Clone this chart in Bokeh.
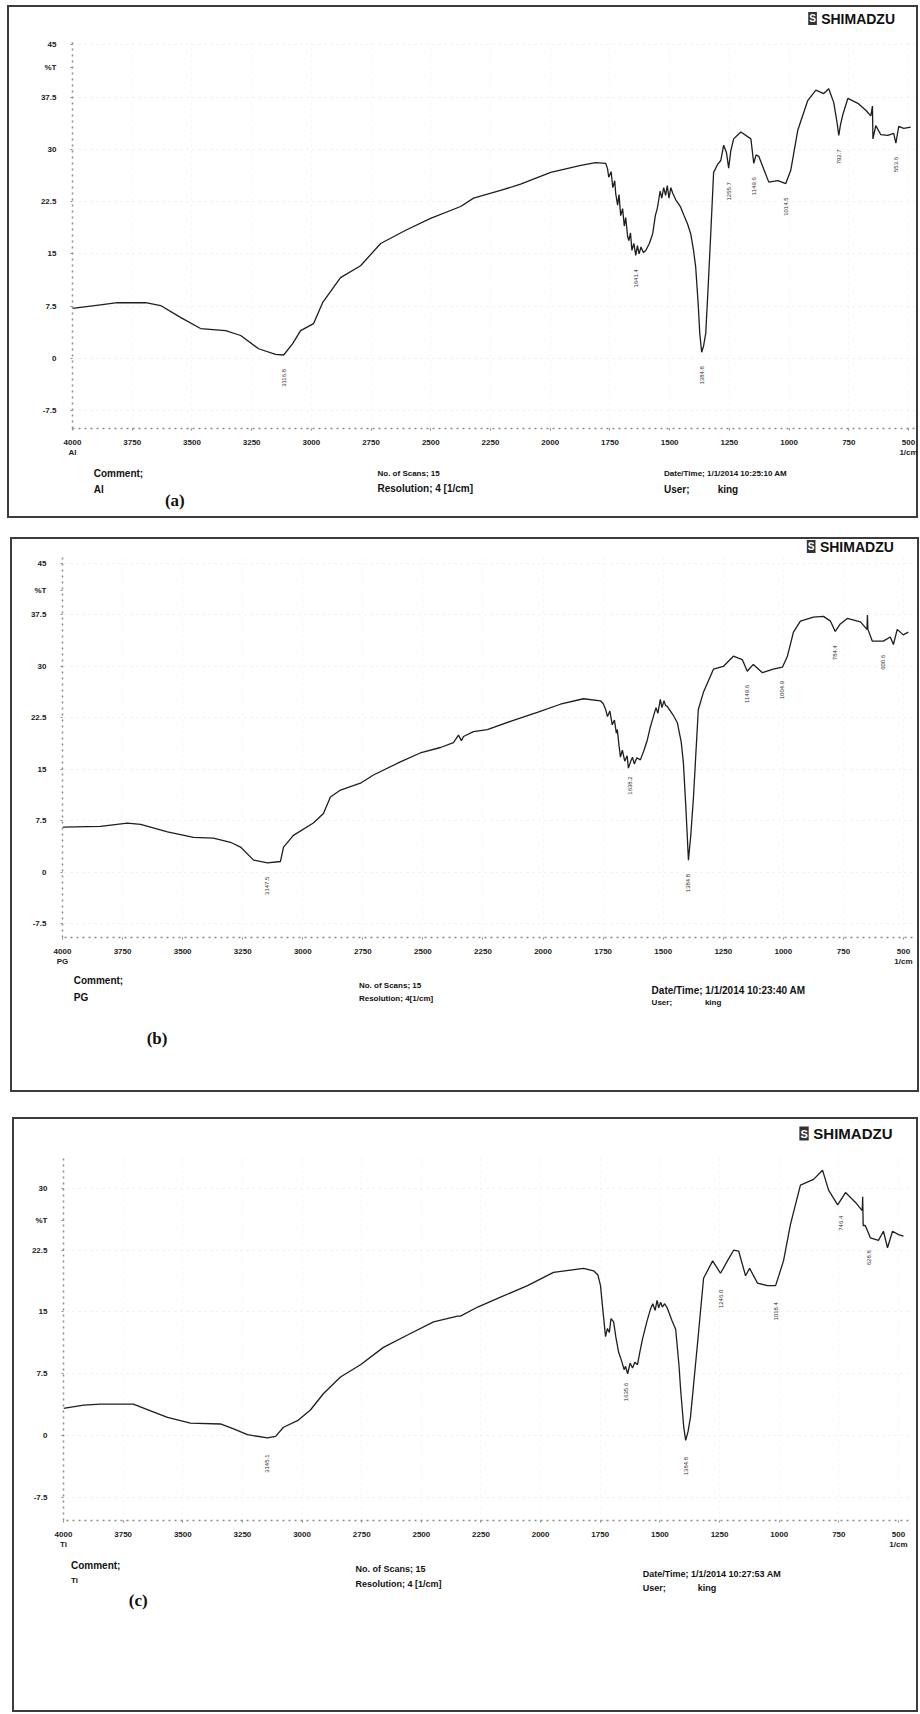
import numpy as np
from bokeh.plotting import figure
from bokeh.layouts import column
from bokeh.models import Range1d, FixedTicker, Label
from bokeh.core.properties import value
from bokeh.embed import file_html
from bokeh.resources import INLINE

# ---------------- data ----------------
x_ticks = [4000, 3750, 3500, 3250, 3000, 2750, 2500, 2250, 2000, 1750, 1500, 1250, 1000, 750, 500]
y_ticks_ab = [45, 37.5, 30, 22.5, 15, 7.5, 0, -7.5]
y_ticks_c = [30, 22.5, 15, 7.5, 0, -7.5]
y_unit_label = "%T"
x_unit_label = "1/cm"

# (a) Al
wn_a = [4000, 3883, 3812, 3694, 3631, 3548, 3464, 3359, 3296, 3221, 3150, 3116, 3079, 3045, 2991,
        2953, 2878, 2794, 2710, 2605, 2501, 2375, 2321, 2208, 2124, 1998, 1872, 1810, 1768, 1760,
        1755, 1745, 1738, 1730, 1726, 1718, 1712, 1705, 1697, 1690, 1684, 1676, 1671, 1664, 1658,
        1650, 1642, 1635, 1628, 1620, 1610, 1600, 1585, 1571, 1560, 1552, 1546, 1540, 1533, 1525,
        1517, 1510, 1503, 1495, 1487, 1475, 1465, 1454, 1440, 1425, 1412, 1400, 1391, 1380, 1374,
        1366, 1358, 1349, 1340, 1328, 1316, 1300, 1286, 1274, 1262, 1253, 1244, 1232, 1202, 1160,
        1148, 1138, 1127, 1110, 1085, 1047, 1014, 993, 964, 922, 888, 855, 834, 813, 800,
        792, 785, 775, 754, 712, 679, 658, 651, 649, 637, 616, 587, 562, 553, 541,
        520, 491]
t_a = [7.2, 7.7, 8.0, 8.0, 7.6, 5.9, 4.3, 4.0, 3.3, 1.4, 0.6, 0.5, 2.1, 4.0, 5.0,
       8.0, 11.6, 13.3, 16.5, 18.4, 20.1, 21.8, 23.0, 24.1, 25.0, 26.7, 27.7, 28.1, 28.0, 27.2,
       26.0, 26.8, 24.5, 25.5, 23.7, 22.0, 23.5, 20.5, 21.5, 19.0, 20.2, 17.5, 16.9, 18.0, 15.5,
       16.5, 14.8, 16.2, 15.0, 16.0, 15.2, 15.5, 16.5, 17.9, 20.5, 21.5, 22.7, 24.0, 23.0, 24.5,
       23.4, 24.8, 23.0, 24.5, 23.7, 22.8, 22.3, 21.7, 20.5, 19.3, 17.9, 15.5, 13.1, 7.5, 3.6,
       0.9, 1.8, 3.6, 9.5, 17.9, 26.7, 27.8, 28.4, 30.6, 29.5, 27.3, 29.8, 31.5, 32.5, 31.5,
       28.0, 29.2, 29.0, 27.5, 25.3, 25.5, 25.1, 27.0, 32.7, 37.0, 38.5, 38.0, 38.7, 36.7, 34.0,
       32.0, 33.5, 35.0, 37.3, 36.6, 35.6, 34.8, 36.2, 31.5, 33.4, 32.1, 32.0, 32.3, 30.9, 33.3,
       33.0, 33.2]
peak_wn_a = [3116, 1642, 1366, 1253, 1148, 1014, 792, 553]
peak_lbl_a = ["3116.8", "1641.4", "1384.8", "1255.7", "1149.6", "1014.5", "792.7", "553.6"]

# (b) PG
wn_b = [4000, 3842, 3730, 3675, 3563, 3455, 3372, 3301, 3259, 3205, 3147, 3093, 3080, 3039, 2956,
        2914, 2885, 2843, 2760, 2706, 2594, 2511, 2427, 2373, 2352, 2340, 2331, 2290, 2232, 2136,
        2024, 1928, 1832, 1761, 1750, 1740, 1732, 1722, 1712, 1703, 1695, 1691, 1684, 1678, 1670,
        1660, 1650, 1645, 1637, 1628, 1620, 1610, 1595, 1580, 1566, 1555, 1541, 1530, 1522, 1512,
        1505, 1497, 1490, 1483, 1460, 1441, 1425, 1416, 1405, 1395, 1385, 1374, 1354, 1333, 1291,
        1250, 1208, 1171, 1150, 1125, 1087, 1042, 1004, 983, 958, 929, 875, 833, 804, 784,
        763, 734, 679, 652, 650, 648, 630, 584, 555, 542, 526, 501, 480]
t_b = [6.6, 6.7, 7.2, 7.0, 5.9, 5.1, 5.0, 4.4, 3.7, 1.8, 1.4, 1.6, 3.7, 5.4, 7.2,
       8.6, 11.0, 12.0, 13.0, 14.2, 16.1, 17.4, 18.2, 18.9, 20.0, 19.2, 19.8, 20.5, 20.8, 22.0,
       23.3, 24.5, 25.3, 25.0, 24.6, 23.8, 22.7, 23.5, 21.5, 22.2, 20.3, 20.8, 18.5, 16.8, 17.8,
       16.2, 17.0, 15.2, 16.0, 16.8, 15.8, 16.7, 16.4, 17.8, 19.3, 21.0, 22.7, 24.0, 23.2, 25.2,
       24.0, 25.0, 24.3, 24.2, 23.0, 21.8, 19.0, 16.0, 9.0, 1.8, 5.5, 11.0, 23.7, 26.2, 29.6,
       30.0, 31.5, 31.0, 29.3, 30.3, 29.1, 29.6, 29.9, 31.5, 35.0, 36.6, 37.2, 37.3, 36.6, 35.1,
       36.2, 37.0, 36.5, 35.4, 37.5, 35.4, 33.7, 33.7, 34.3, 33.2, 35.4, 34.6, 35.0]
peak_wn_b = [3147, 1637, 1395, 1150, 1004, 784, 584]
peak_lbl_b = ["3147.5", "1638.2", "1384.8", "1149.6", "1004.9", "784.4", "600.6"]

# (c) Ti
wn_c = [4000, 3916, 3845, 3707, 3635, 3564, 3468, 3342, 3287, 3229, 3145, 3111, 3078, 3019, 2965,
        2910, 2839, 2755, 2659, 2558, 2449, 2348, 2336, 2264, 2168, 2055, 1946, 1820, 1778, 1760,
        1749, 1740, 1728, 1720, 1712, 1705, 1694, 1685, 1673, 1660, 1650, 1644, 1635, 1625, 1615,
        1605, 1594, 1585, 1573, 1555, 1539, 1530, 1520, 1512, 1505, 1497, 1490, 1480, 1468, 1450,
        1434, 1420, 1413, 1400, 1392, 1382, 1372, 1342, 1317, 1279, 1246, 1217, 1191, 1170, 1141,
        1124, 1091, 1049, 1015, 982, 953, 911, 856, 818, 793, 755, 722, 680, 652, 650,
        648, 639, 618, 584, 563, 546, 525, 500, 479]
t_c = [3.3, 3.7, 3.8, 3.8, 3.0, 2.2, 1.5, 1.4, 0.8, 0.1, -0.3, -0.1, 1.0, 1.8, 3.1,
       5.1, 7.1, 8.6, 10.7, 12.2, 13.8, 14.5, 14.5, 15.6, 16.8, 18.2, 19.8, 20.3, 20.0, 19.5,
       18.2, 15.5, 12.0, 13.0, 12.5, 14.2, 13.8, 12.0, 10.1, 9.0, 8.0, 8.4, 7.5, 8.8, 8.2,
       8.9, 8.6, 10.0, 11.7, 13.8, 15.4, 16.0, 15.2, 16.4, 15.5, 16.2, 15.6, 16.0, 15.4, 14.0,
       12.9, 8.5, 5.5, 1.0, -0.6, 0.5, 2.2, 11.3, 19.1, 21.2, 19.7, 21.2, 22.5, 22.4, 19.4,
       20.3, 18.5, 18.2, 18.2, 21.2, 25.6, 30.4, 31.1, 32.2, 29.8, 28.0, 29.5, 28.3, 27.3, 29.0,
       25.5, 25.5, 24.0, 23.7, 24.8, 22.8, 24.8, 24.4, 24.2]
peak_wn_c = [3145, 1644, 1392, 1246, 1015, 740, 625]
peak_lbl_c = ["3145.1", "1635.6", "1384.8", "1246.0", "1018.4", "746.4", "628.8"]

samples = ["Al", "PG", "Ti"]
panel_tags = ["(a)", "(b)", "(c)"]
scans = ["15", "15", "15"]
dates = ["1/1/2014 10:25:10 AM", "1/1/2014 10:23:40 AM", "1/1/2014 10:27:53 AM"]
user = "king"
brand = "SHIMADZU"

FONT = "Liberation Sans"


def strip(W, H):
    """A blank figure whose frame fills its canvas; texts are placed in pixels
    measured from its top-left corner (y range runs downwards)."""
    p = figure(width=W, height=H, output_backend="svg", toolbar_location=None,
               x_range=Range1d(0, W), y_range=Range1d(H, 0), title=None,
               x_axis_type=None, y_axis_type=None,
               min_border_left=0, min_border_right=0, min_border_top=0, min_border_bottom=0)
    p.outline_line_color = None
    p.border_fill_color = None
    p.background_fill_color = None
    return p


def txt(p, x, y, text, size="8px", bold=True, font=FONT, color="#111111",
        align="left", bg=None):
    lb = Label(x=x, y=y, text=text, text_font=font, text_font_size=size,
               text_font_style="bold" if bold else "normal",
               text_color=color, text_align=align, text_baseline="middle")
    if bg is not None:
        lb.background_fill_color = bg
        lb.padding = 1
    p.add_layout(lb)


def main_plot(W, H, left, right, top, bottom, xr, yr, yticks, pct_at,
              wn, t, pk_wn, pk_lbl, pk_off, sample):
    p = figure(width=W, height=H, output_backend="svg", toolbar_location=None,
               x_range=Range1d(*xr), y_range=Range1d(*yr), title=None,
               min_border_left=left, min_border_right=right,
               min_border_top=top, min_border_bottom=bottom)
    p.outline_line_color = None
    p.border_fill_color = None
    p.background_fill_color = None

    for ax in (p.xaxis[0], p.yaxis[0]):
        ax.axis_line_color = "#8a8a8a"
        ax.axis_line_dash = "dotted"
        ax.axis_line_width = 1.5
        ax.major_tick_line_color = "#8a8a8a"
        ax.major_tick_in = 0
        ax.major_tick_out = 2
        ax.minor_tick_line_color = None
        ax.major_label_text_font = FONT
        ax.major_label_text_font_size = "8px"
        ax.major_label_text_font_style = "bold"
        ax.major_label_text_color = "#222222"
    p.xaxis.ticker = FixedTicker(ticks=x_ticks)
    xo = {v: str(v) for v in x_ticks}
    xo[x_ticks[0]] = str(x_ticks[0]) + "\n" + sample
    xo[x_ticks[-1]] = str(x_ticks[-1]) + "\n" + x_unit_label
    p.xaxis.major_label_overrides = xo
    p.xaxis.major_label_standoff = 7
    p.yaxis.ticker = FixedTicker(ticks=list(yticks) + [pct_at])
    yo = {v: ("%g" % v) for v in yticks}
    yo[pct_at] = y_unit_label
    p.yaxis.major_label_overrides = yo
    p.yaxis.major_label_standoff = 14

    p.xgrid.ticker = FixedTicker(ticks=x_ticks)
    p.ygrid.ticker = FixedTicker(ticks=list(yticks))
    p.xgrid.grid_line_color = "#c8c8c8"
    p.xgrid.grid_line_dash = "dotted"
    p.xgrid.grid_line_alpha = 0.22
    p.ygrid.grid_line_color = "#c8c8c8"
    p.ygrid.grid_line_dash = "dotted"
    p.ygrid.grid_line_alpha = 0.3

    p.line(wn, t, line_color="#1e1e1e", line_width=1.3)

    wn_arr = np.array(wn, dtype=float)
    t_arr = np.array(t, dtype=float)
    ly = np.interp(pk_wn, wn_arr[::-1], t_arr[::-1]) - pk_off
    p.text(x=pk_wn, y=list(ly), text=pk_lbl, angle=np.pi / 2,
           text_align="right", text_baseline="middle",
           text_font=value(FONT), text_font_size="6px", text_color="#333333")
    return p


def block(children, margin):
    return column(*children, spacing=0, margin=margin,
                  styles={"box-shadow": "inset 0 0 0 2px #3c3c3c"})


BOTTOM = 32

# ---------------- panel (a) ----------------
Wa = 911
ha = strip(Wa, 25)
txt(ha, 796, 13, "S", "10px", color="white", bg="#333333")
txt(ha, 810, 13, brand, "14px")
ma = main_plot(Wa, 8 + 390 + BOTTOM, 65, 4, 8, BOTTOM, (4000, 475), (-10.04, 45.9),
               y_ticks_ab, 41.7, wn_a, t_a, peak_wn_a, peak_lbl_a, 2.0, samples[0])
fa = strip(Wa, 513 - 25 - (8 + 390 + BOTTOM))
txt(fa, 23, 13, "Comment;", "10px")
txt(fa, 23, 29, samples[0], "10px")
txt(fa, 100, 40, panel_tags[0], "17px", font="Liberation Serif")
txt(fa, 330, 13, "No. of Scans; " + scans[0], "8px")
txt(fa, 330, 28, "Resolution;    4 [1/cm]", "10px")
txt(fa, 640, 13, "Date/Time; " + dates[0], "8px")
txt(fa, 640, 29, "User;", "10px")
txt(fa, 698, 29, user, "10px")
panel_a = block([ha, ma, fa], (5, 0, 0, 7))

# ---------------- panel (b) ----------------
Wb = 909
hb = strip(Wb, 16)
txt(hb, 796, 9, "S", "10px", color="white", bg="#333333")
txt(hb, 810, 9, brand, "14px")
mb = main_plot(Wb, 4 + 380 + BOTTOM, 52, 7, 4, BOTTOM, (4000, 462.5), (-9.47, 45.87),
               y_ticks_ab, 41.07, wn_b, t_b, peak_wn_b, peak_lbl_b, 2.0, samples[1])
fb = strip(Wb, 555 - 16 - (4 + 380 + BOTTOM))
txt(fb, 12, 11, "Comment;", "10px")
txt(fb, 12, 28, samples[1], "10px")
txt(fb, 90, 69, panel_tags[1], "17px", font="Liberation Serif")
txt(fb, 317, 16, "No. of Scans; " + scans[1], "8px")
txt(fb, 317, 29, "Resolution;   4[1/cm]", "8px")
txt(fb, 630, 21, "Date/Time; " + dates[1], "10px")
txt(fb, 630, 33, "User;", "8px")
txt(fb, 687, 33, user, "8px")
panel_b = block([hb, mb, fb], (19, 0, 0, 10))

# ---------------- panel (c) ----------------
Wc = 906
hc = strip(Wc, 33)
txt(hc, 789, 16, "S", "11px", color="white", bg="#333333")
txt(hc, 804, 16, brand, "15px")
mc = main_plot(Wc, 5 + 365 + BOTTOM, 51, 10, 5, BOTTOM, (4000, 458), (-10.32, 34.0),
               y_ticks_c, 26.1, wn_c, t_c, peak_wn_c, peak_lbl_c, 2.0, samples[2])
fc = strip(Wc, 595 - 33 - (5 + 365 + BOTTOM))
txt(fc, 8, 13, "Comment;", "10px")
txt(fc, 8, 28, samples[2], "8px")
txt(fc, 70, 48, panel_tags[2], "17px", font="Liberation Serif")
txt(fc, 313, 16, "No. of Scans; " + scans[2], "9px")
txt(fc, 313, 31, "Resolution;  4 [1/cm]", "9px")
txt(fc, 621, 21, "Date/Time; " + dates[2], "9px")
txt(fc, 621, 35, "User;", "9px")
txt(fc, 680, 35, user, "9px")
panel_c = block([hc, mc, fc], (25, 0, 0, 12))

layout = column(panel_a, panel_b, panel_c, spacing=0)
open("out.html", "w").write(file_html(layout, INLINE))
